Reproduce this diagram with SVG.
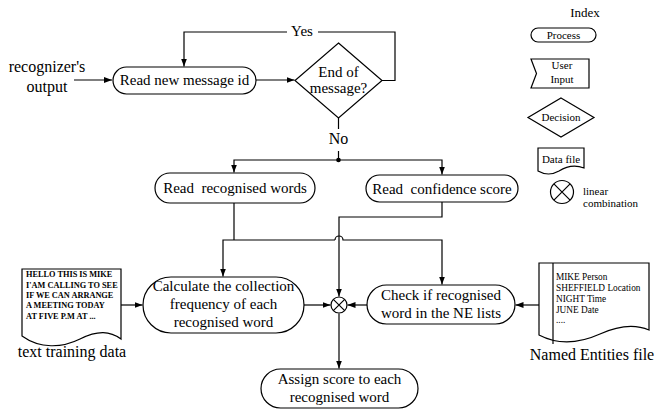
<svg xmlns="http://www.w3.org/2000/svg" width="657" height="411" viewBox="0 0 657 411" font-family="Liberation Serif, Times New Roman, serif">
<defs>
<marker id="arr" viewBox="0 0 8 6" refX="8" refY="3" markerWidth="8" markerHeight="6" markerUnits="userSpaceOnUse" orient="auto">
<path d="M0,0 L8,3 L0,6 Z" fill="#000"/>
</marker>
</defs>
<style>
.s{fill:#fff;stroke:#000;stroke-width:1.2}
.c{fill:none;stroke:#000;stroke-width:1.2}
.a{marker-end:url(#arr)}
text{font-family:Liberation Serif, Times New Roman, serif;fill:#000;white-space:pre}
.m{font-size:15px;text-anchor:middle}
.l{font-size:16px;text-anchor:middle}
.i{font-size:11px;text-anchor:middle}
.d{font-size:8.3px;font-weight:bold}
.n{font-size:9.3px}
</style>
<rect width="657" height="411" fill="#fff"/>

<g id="connectors">
<path class="c a" d="M74,80 H112"/>
<path class="c a" d="M256,80 H294.5"/>
<path class="c" d="M382,80.5 H395 V32 H318"/>
<path class="c a" d="M287,32 H184 V66.5"/>
<path class="c" d="M338.5,118 V129"/>
<path class="c" d="M338.5,151 V160"/>
<circle cx="338.5" cy="160" r="2.3" fill="#000"/>
<path class="c a" d="M338.5,160 H234 V172.5"/>
<path class="c a" d="M338.5,160 H442 V174.5"/>
<path class="c" d="M234,203 V240"/>
<path class="c a" d="M335,240 H223 V276.5"/>
<path class="c a" d="M335,240 A4,4 0 0 1 343,240 H442 V284.5"/>
<path class="c a" d="M442,202 V217 H339 V296.5"/>
<path class="c a" d="M121,305 H142.5"/>
<path class="c a" d="M304,305 H330.5"/>
<path class="c a" d="M367,305 H347.5"/>
<path class="c a" d="M539,305 H515.5"/>
<path class="c a" d="M339,313.5 V368.5"/>
</g>

<g id="input">
<text class="l" x="47" y="72">recognizer's</text>
<text class="l" x="47" y="92">output</text>
</g>

<g id="read-id">
<rect class="s" x="113" y="67" width="143" height="27" rx="13.5"/>
<text class="m" x="184.5" y="85">Read new message id</text>
</g>

<g id="end-decision">
<polygon class="s" points="338.5,43 382,80.5 338.5,118 295,80.5"/>
<text class="m" x="338.5" y="77">End of</text>
<text class="m" x="338.5" y="93">message?</text>
</g>

<g id="yes-label"><text class="m" x="302" y="36">Yes</text></g>
<g id="no-label"><text class="l" x="338.5" y="144">No</text></g>

<g id="read-words">
<rect class="s" x="155" y="173" width="160" height="30" rx="15"/>
<text class="m" x="235" y="193">Read  recognised words</text>
</g>

<g id="read-conf">
<rect class="s" x="366" y="175" width="152" height="27" rx="13.5"/>
<text class="m" x="442" y="194">Read  confidence score</text>
</g>

<g id="calc">
<rect class="s" x="143" y="277" width="161" height="56" rx="28"/>
<text class="m" x="223.5" y="291">Calculate the collection</text>
<text class="m" x="223.5" y="309">frequency of each</text>
<text class="m" x="223.5" y="327">recognised word</text>
</g>

<g id="combine">
<circle class="s" cx="339" cy="305" r="8"/>
<path class="c" d="M333.3,299.3 L344.7,310.7 M344.7,299.3 L333.3,310.7"/>
</g>

<g id="check">
<rect class="s" x="367" y="285" width="148" height="39" rx="19.5"/>
<text class="m" x="441" y="300">Check if recognised</text>
<text class="m" x="441" y="318">word in the NE lists</text>
</g>

<g id="assign">
<rect class="s" x="261" y="369" width="157" height="39" rx="19.5"/>
<text class="m" x="339.5" y="384">Assign score to each</text>
<text class="m" x="339.5" y="402">recognised word</text>
</g>

<g id="training-doc">
<path class="s" d="M22,269 H121 V339 C110,331 98,330 80,339 C62,348 40,349 22,336 Z"/>
<text class="d" x="26" y="277">HELLO THIS IS MIKE</text>
<text class="d" x="26" y="288">I'AM CALLING TO SEE</text>
<text class="d" x="26" y="298">IF WE CAN ARRANGE</text>
<text class="d" x="26" y="308">A MEETING TODAY</text>
<text class="d" x="26" y="319">AT FIVE P.M AT ...</text>
<text class="l" x="72" y="357">text training data</text>
</g>

<g id="ne-doc">
<path class="s" d="M539,263 H649 V330 C635,324 620,325 600,334 C580,343 560,346 539,335 Z"/>
<path class="c" d="M553,263 V344"/>
<text class="n" x="556" y="280">MIKE Person</text>
<text class="n" x="556" y="291">SHEFFIELD Location</text>
<text class="n" x="556" y="302">NIGHT Time</text>
<text class="n" x="556" y="313">JUNE Date</text>
<text class="n" x="556" y="323">....</text>
<text class="l" x="592" y="360">Named Entities file</text>
</g>

<g id="index">
<text x="585" y="17" style="font-size:13px;text-anchor:middle">Index</text>
<rect class="s" x="531" y="28" width="65" height="14" rx="7"/>
<text class="i" x="563.5" y="38.5">Process</text>
<polygon class="s" points="531,59 589,59 589,88 531,88 536.5,73.5"/>
<text class="i" x="562" y="69">User</text>
<text class="i" x="562" y="83">Input</text>
<polygon class="s" points="561,98 594,117.5 561,137 528,117.5"/>
<text class="i" x="561" y="121">Decision</text>
<path class="s" d="M538,148 H584 V168 C576,165 567,166 559,171 C552,175 545,175 538,171 Z"/>
<text class="i" x="561" y="163">Data file</text>
<circle class="s" cx="562" cy="192" r="11.5"/>
<path class="c" d="M553.9,183.9 L570.1,200.1 M570.1,183.9 L553.9,200.1"/>
<text x="583" y="195" style="font-size:11px">linear</text>
<text x="583" y="207" style="font-size:11px">combination</text>
</g>
</svg>
